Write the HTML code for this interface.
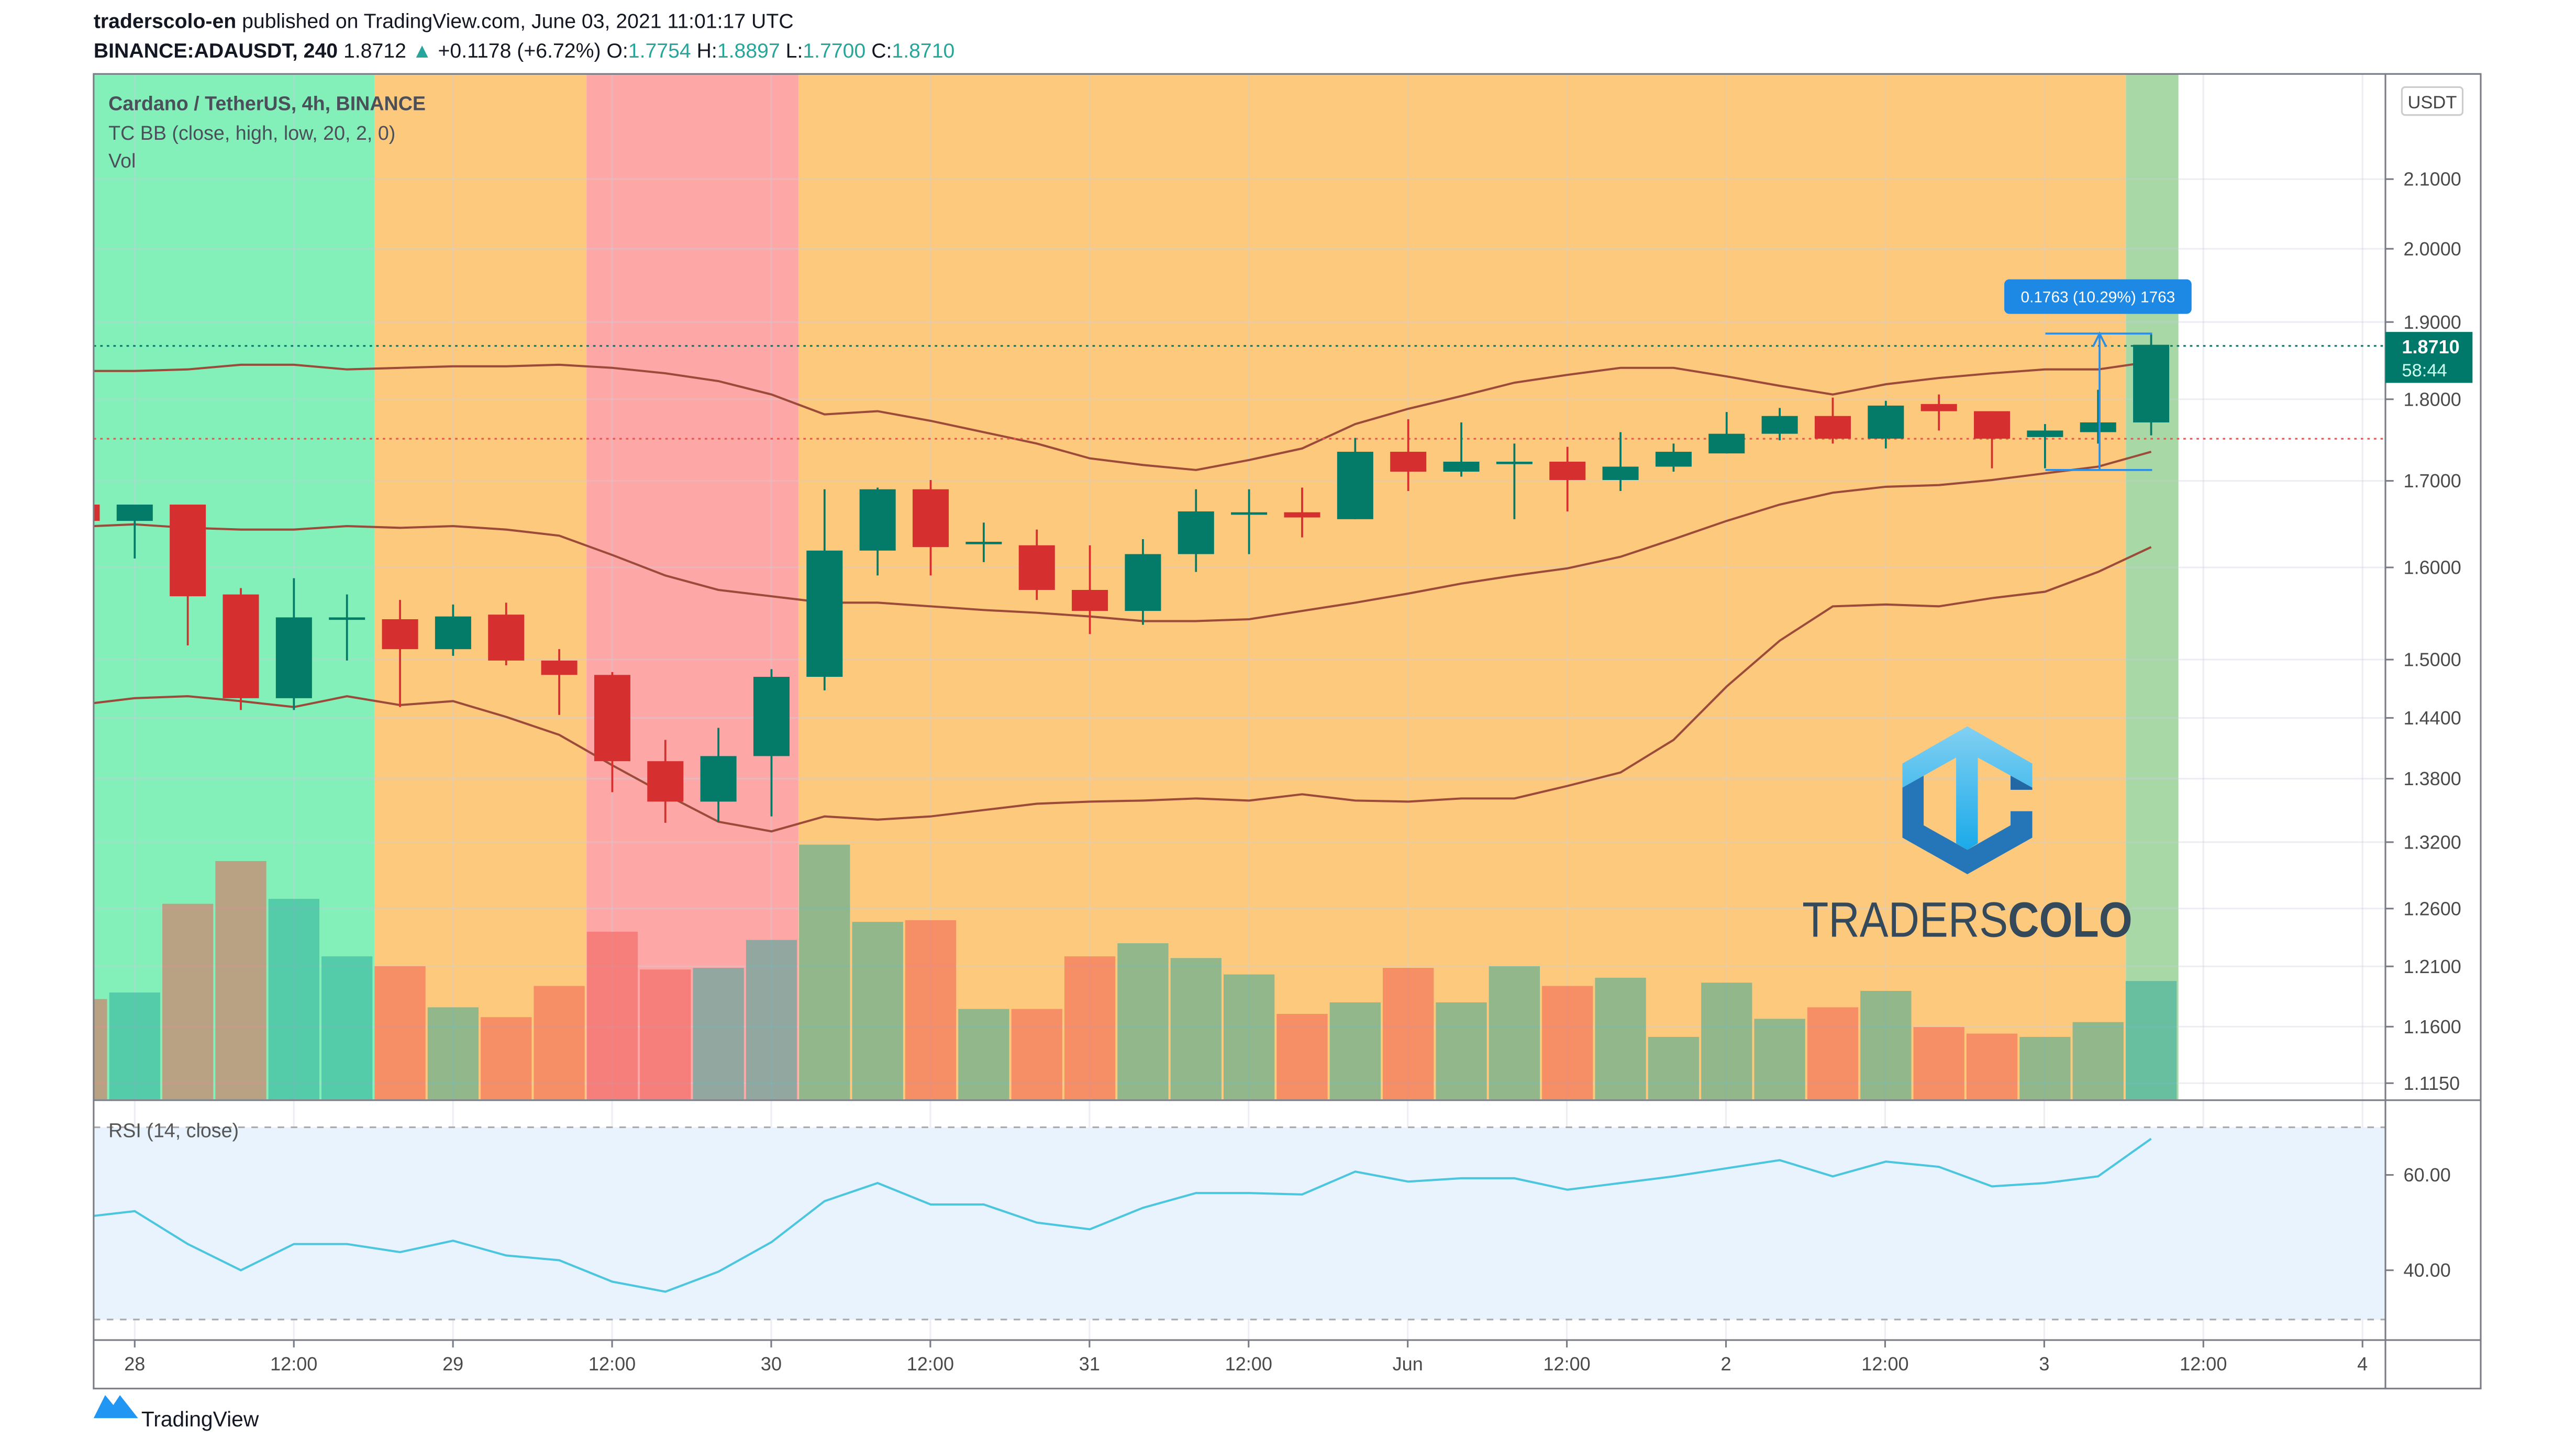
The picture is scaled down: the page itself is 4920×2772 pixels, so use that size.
<!DOCTYPE html>
<html><head><meta charset="utf-8"><style>
html,body{margin:0;padding:0;background:#fff;}
svg{display:block;}
text{font-family:"Liberation Sans",sans-serif;}
</style></head><body>
<svg id="chart" width="4920" height="2772" viewBox="0 0 1568 883" preserveAspectRatio="none" xmlns="http://www.w3.org/2000/svg">
<defs>
<linearGradient id="lg" x1="0" y1="0" x2="0" y2="1"><stop offset="0" stop-color="#82d0f2"/><stop offset="1" stop-color="#1aaae9"/></linearGradient>
</defs>
<rect x="0" y="0" width="1568" height="883" fill="#fff"/>
<text x="57" y="17" font-size="12.5" fill="#131722"><tspan font-weight="bold">traderscolo-en</tspan> published on TradingView.com, June 03, 2021 11:01:17 UTC</text>
<text x="57" y="35" font-size="12.5" fill="#131722"><tspan font-weight="bold">BINANCE:ADAUSDT, 240</tspan> 1.8712 <tspan fill="#26a69a">▲</tspan> +0.1178 (+6.72%) O:<tspan fill="#26a69a">1.7754</tspan> H:<tspan fill="#26a69a">1.8897</tspan> L:<tspan fill="#26a69a">1.7700</tspan> C:<tspan fill="#26a69a">1.8710</tspan></text>

<g id="bg">
<rect x="57" y="45" width="171" height="624" fill="#82f0b8"/>
<rect x="228" y="45" width="129" height="624" fill="#fdc97c"/>
<rect x="357" y="45" width="129" height="624" fill="#fda8a6"/>
<rect x="486" y="45" width="808" height="624" fill="#fdc97c"/>
<rect x="1294" y="45" width="32" height="624" fill="#a8d8a6"/>
</g>
<g id="grid"></g>
<g id="vol"></g>
<g id="bb"></g>
<line x1="57" y1="210.5" x2="1452" y2="210.5" stroke="#00796b" stroke-width="1" stroke-dasharray="1.5,2.5"/>
<line x1="57" y1="267" x2="1452" y2="267" stroke="#ef5350" stroke-width="1" stroke-dasharray="1.5,2.5"/>
<g id="candles"></g>

<g stroke="#2d8ee6" stroke-width="1.2" fill="none">
<line x1="1245" y1="203" x2="1310" y2="203"/>
<line x1="1245" y1="286" x2="1310" y2="286"/>
<line x1="1278" y1="203" x2="1278" y2="286"/>
<polyline points="1274,211 1278,203 1282,211"/>
</g>
<g>
<rect x="1220" y="170" width="114" height="21" rx="3" fill="#1e88e5"/>
<text x="1277" y="184" font-size="9.5" fill="#fff" text-anchor="middle">0.1763 (10.29%) 1763</text>
</g>

<g>
<g transform="translate(1158,442) scale(0.152,0.1044) translate(-383,-108)">
<polygon fill="#2476b8" points="383,465 468,395 468,685 643,828 816,685 816,603 903,603 903,757 643,970 383,757"/>
<polygon fill="#2467a5" points="816,395 903,465 903,478 816,478"/>
<polygon fill="url(#lg)" points="383,325 643,108 903,325 903,465 685,290 685,790 643,828 598,790 598,290 383,465"/>
</g>
<text x="1097" y="570" font-size="30" fill="#34495a" textLength="201" lengthAdjust="spacingAndGlyphs"><tspan font-weight="normal">TRADERS</tspan><tspan font-weight="bold">COLO</tspan></text>
</g>

<text x="66" y="67" font-size="12" fill="#4a4f5a" font-weight="bold">Cardano / TetherUS, 4h, BINANCE</text>
<text x="66" y="85" font-size="12" fill="#4a4f5a">TC BB (close, high, low, 20, 2, 0)</text>
<text x="66" y="102" font-size="12" fill="#4a4f5a">Vol</text>

<!-- RSI pane -->
<rect x="57" y="686" width="1395" height="117" fill="#e8f3fd"/>
<line x1="57" y1="686" x2="1452" y2="686" stroke="#aaa" stroke-dasharray="4,4"/>
<line x1="57" y1="803" x2="1452" y2="803" stroke="#aaa" stroke-dasharray="4,4"/>
<g id="rsi"></g>
<text x="66" y="692" font-size="12" fill="#555">RSI (14, close)</text>

<!-- frames -->
<g fill="none" stroke="#7a7d86" stroke-width="1">
<rect x="57" y="45" width="1453" height="800"/>
<line x1="57" y1="669.5" x2="1510" y2="669.5"/>
<line x1="57" y1="815.5" x2="1510" y2="815.5"/>
<line x1="1452" y1="45" x2="1452" y2="845"/>
</g>
<g id="paxis"></g>
<g id="taxis"></g>
<g>
<rect x="1462" y="53" width="37" height="17" rx="2" fill="#fff" stroke="#ccc"/>
<text x="1480.5" y="66" font-size="11" fill="#444" text-anchor="middle">USDT</text>
</g>
<g>
<rect x="1452" y="202" width="53" height="31" fill="#00796b"/>
<text x="1462" y="215" font-size="11.5" fill="#fff" font-weight="bold">1.8710</text>
<text x="1462" y="229" font-size="11" fill="#cfe">58:44</text>
</g>
<g>
<path d="M57,871 L64,857 L69,863 L73,857 L84,871 Z" fill="#2196f3" transform="translate(0,-8)"/>
<text x="86" y="868" font-size="13" fill="#131722">TradingView</text>
</g>

<script>
var NS='http://www.w3.org/2000/svg';
// ---- data ----
var opens  =[1.672,1.653,1.672,1.570,1.460,1.545,1.543,1.511,1.548,1.499,1.484,1.397,1.358,1.402,1.482,1.619,1.690,1.629,1.625,1.575,1.552,1.615,1.663,1.663,1.655,1.735,1.711,1.723,1.723,1.701,1.717,1.733,1.757,1.779,1.751,1.794,1.785,1.753,1.759,1.771];
var highs  =[1.672,1.672,1.672,1.577,1.588,1.570,1.564,1.559,1.561,1.511,1.487,1.418,1.430,1.490,1.690,1.692,1.701,1.651,1.643,1.625,1.632,1.690,1.690,1.692,1.752,1.775,1.771,1.745,1.741,1.759,1.745,1.784,1.789,1.802,1.798,1.806,1.785,1.769,1.812,1.885];
var lows   =[1.653,1.610,1.515,1.448,1.448,1.499,1.451,1.504,1.494,1.443,1.367,1.338,1.339,1.344,1.468,1.591,1.591,1.606,1.564,1.527,1.537,1.595,1.615,1.634,1.655,1.688,1.705,1.655,1.664,1.688,1.711,1.733,1.749,1.745,1.739,1.761,1.715,1.715,1.745,1.755];
var closes =[1.653,1.672,1.568,1.460,1.545,1.545,1.511,1.546,1.499,1.484,1.397,1.358,1.402,1.482,1.619,1.690,1.623,1.629,1.575,1.552,1.615,1.664,1.663,1.657,1.735,1.711,1.723,1.723,1.701,1.717,1.735,1.757,1.779,1.751,1.792,1.785,1.751,1.761,1.771,1.870];
var volumes=[61,65,119,145,122,87,81,56,50,69,102,79,80,97,155,108,109,55,55,87,95,86,76,52,59,80,59,81,69,74,38,71,49,56,66,44,40,38,47,72];
var bbUpper=[1.836,1.836,1.838,1.844,1.844,1.838,1.840,1.842,1.842,1.844,1.840,1.833,1.823,1.806,1.781,1.785,1.773,1.759,1.745,1.727,1.719,1.713,1.725,1.739,1.769,1.788,1.804,1.821,1.831,1.840,1.840,1.829,1.817,1.806,1.819,1.827,1.833,1.838,1.838,1.848];
var bbMid  =[1.647,1.649,1.645,1.643,1.643,1.647,1.645,1.647,1.643,1.636,1.614,1.591,1.575,1.568,1.561,1.561,1.557,1.553,1.550,1.546,1.541,1.541,1.543,1.552,1.561,1.571,1.582,1.591,1.599,1.612,1.632,1.653,1.672,1.686,1.693,1.695,1.701,1.709,1.717,1.735];
var bbLower=[1.455,1.460,1.462,1.457,1.451,1.462,1.453,1.457,1.441,1.423,1.393,1.365,1.339,1.330,1.344,1.341,1.344,1.350,1.356,1.358,1.359,1.361,1.359,1.365,1.359,1.358,1.361,1.361,1.373,1.386,1.418,1.472,1.520,1.557,1.559,1.557,1.566,1.573,1.595,1.623];
var rsiVals=[51.4,52.4,45.5,40.0,45.5,45.5,43.8,46.2,43.1,42.1,37.6,35.5,39.7,45.9,54.5,58.3,53.8,53.8,50.0,48.6,53.1,56.2,56.2,55.9,60.7,58.6,59.3,59.3,56.9,58.3,59.7,61.4,63.1,59.7,62.8,61.7,57.6,58.3,59.7,67.6];
var priceTicks=[2.1,2.0,1.9,1.8,1.7,1.6,1.5,1.44,1.38,1.32,1.26,1.21,1.16,1.115];
var timeTicks=['28','12:00','29','12:00','30','12:00','31','12:00','Jun','12:00','2','12:00','3','12:00','4'];
var rsiTicks=[60,40];

// ---- scales ----
function xPos(i){return 82+(i-1)*32.3;}
function yPrice(p){return 109+(Math.log(2.1)-Math.log(p))*869;}
function yVol(v){return 669-v;}
function yRsi(v){return 715-(v-60)*2.9;}
function mk(tag,attrs,parent){var e=document.createElementNS(NS,tag);for(var k in attrs)e.setAttribute(k,attrs[k]);parent.appendChild(e);return e;}

var grid=document.getElementById('grid');
var pax=document.getElementById('paxis');
priceTicks.forEach(function(p){
  var y=yPrice(p);
  var gl=mk('line',{x1:57,x2:1452,y1:y,y2:y,stroke:'rgba(200,205,220,0.35)','stroke-width':1},grid);
  
  
  mk('line',{x1:1452,x2:1457,y1:y,y2:y,stroke:'#7a7d86'},pax);
  var t=mk('text',{x:1463,y:y+4,'font-size':11.5,fill:'#4a4a4a'},pax);
  t.textContent=p.toFixed(4);
  
  
});
var tax=document.getElementById('taxis');
timeTicks.forEach(function(lbl,j){
  var x=82+j*96.86;
  var gl=mk('line',{x1:x,x2:x,y1:45,y2:815,stroke:'rgba(200,205,220,0.35)','stroke-width':1},grid);
  
  
  mk('line',{x1:x,x2:x,y1:815,y2:820,stroke:'#7a7d86'},tax);
  var t=mk('text',{x:x,y:834,'font-size':11.5,fill:'#4a4a4a','text-anchor':'middle'},tax);
  t.textContent=lbl;
  
  
});
rsiTicks.forEach(function(v){
  var y=yRsi(v);
  mk('line',{x1:57,x2:1452,y1:y,y2:y,stroke:'rgba(200,205,220,0.5)'},grid);
  mk('line',{x1:1452,x2:1457,y1:y,y2:y,stroke:'#7a7d86'},pax);
  var t=mk('text',{x:1463,y:y+4,'font-size':11.5,fill:'#4a4a4a'},pax);
  t.textContent=v.toFixed(2);
  
  
});

var vg=document.getElementById('vol');
volumes.forEach(function(v,i){
  var up=closes[i]>=opens[i];
  var x=xPos(i);
  var r=mk('rect',{x:Math.max(57,x-15.5),y:yVol(v),width:Math.min(31,x+15.5-Math.max(57,x-15.5)),height:669-yVol(v),fill:up?'rgba(38,166,154,0.5)':'rgba(239,83,80,0.5)'},vg);
  
  
});

var bbg=document.getElementById('bb');
[bbUpper,bbMid,bbLower].forEach(function(arr,n){
  var pts=arr.map(function(p,i){return Math.max(57,xPos(i))+','+yPrice(p);}).join(' ');
  var pl=mk('polyline',{points:pts,fill:'none',stroke:'#9c4a3a','stroke-width':1.3},bbg);
  
  
});

var cg=document.getElementById('candles');
opens.forEach(function(o,i){
  var c=closes[i],x=xPos(i),up=c>=o,col=up?'#047a69':'#d62f2f';
  var g=mk('g',{},cg);
  
  
  var yh=yPrice(highs[i]),yl=yPrice(lows[i]);
  if(x>57) mk('line',{x1:x,x2:x,y1:yh,y2:yl,stroke:col,'stroke-width':1.2},g);
  var yt=yPrice(Math.max(o,c)),yb=yPrice(Math.min(o,c));
  var h=Math.max(1.5,yb-yt);
  var left=Math.max(57,x-11);
  mk('rect',{x:left,y:yt,width:x+11-left,height:h,fill:col},g);
});

var rg=document.getElementById('rsi');
var rp=mk('polyline',{points:rsiVals.map(function(v,i){return Math.max(57,xPos(i))+','+yRsi(v);}).join(' '),fill:'none',stroke:'#4cc6de','stroke-width':1.3},rg);


</script>
</svg>
</body></html>
